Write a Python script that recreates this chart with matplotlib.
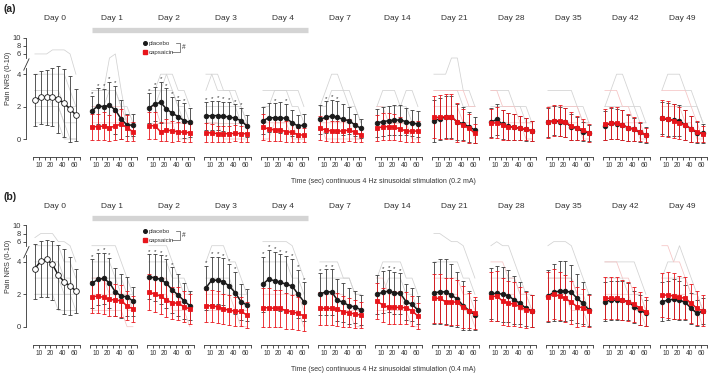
import numpy as np
import matplotlib.pyplot as plt
from matplotlib.lines import Line2D

plt.rcParams['font.family'] = ['Liberation Sans', 'DejaVu Sans']

# ---- data ----
days = ['Day 0', 'Day 1', 'Day 2', 'Day 3', 'Day 4', 'Day 7',
        'Day 14', 'Day 21', 'Day 28', 'Day 35', 'Day 42', 'Day 49']
time_sec = [5, 10, 15, 20, 30, 40, 50, 60]
xtick_labels = ['', '10', '', '20', '', '40', '', '60', '']
ytick_values = [0, 2, 4, 6, 8, 10]

# baseline (Day 0), all subjects pooled
a_day0_mean = [2.41, 2.57, 2.59, 2.61, 2.45, 2.2, 1.85, 1.48]
a_day0_sd = [1.6, 1.65, 1.7, 1.8, 2.05, 2.1, 2.05, 1.62]
b_day0_mean = [3.59, 4.04, 4.15, 3.84, 3.18, 2.77, 2.52, 2.2]
b_day0_sd = [1.9, 2.2, 2.3, 2.2, 2.1, 2.0, 1.8, 1.35]

# (a) 0.2 mA, Day 1 .. Day 49
a_placebo_mean = [
    [1.73, 2.04, 2.0, 2.08, 1.79, 1.23, 0.86, 0.86],
    [1.9, 2.16, 2.26, 1.85, 1.59, 1.38, 1.13, 1.03],
    [1.43, 1.43, 1.45, 1.4, 1.36, 1.28, 1.13, 0.8],
    [1.13, 1.31, 1.31, 1.31, 1.28, 1.0, 0.8, 0.86],
    [1.21, 1.34, 1.42, 1.34, 1.21, 1.13, 0.86, 0.66],
    [1.0, 1.07, 1.13, 1.17, 1.17, 1.07, 0.97, 0.93],
    [1.13, 1.25, 1.35, 1.35, 1.05, 0.95, 0.74, 0.56],
    [1.03, 1.21, 0.9, 0.78, 0.72, 0.66, 0.6, 0.49],
    [1.03, 1.13, 1.07, 1.03, 0.74, 0.66, 0.45, 0.39],
    [0.82, 0.97, 0.93, 0.86, 0.7, 0.6, 0.41, 0.25],
    [1.28, 1.21, 1.17, 1.13, 0.86, 0.62, 0.39, 0.35],
]
a_placebo_sd = [
    [0.9, 1.1, 1.1, 1.45, 1.5, 1.2, 0.66, 0.66],
    [0.92, 1.03, 1.28, 1.28, 1.02, 1.0, 1.07, 0.9],
    [0.85, 0.9, 0.9, 0.9, 0.9, 0.85, 0.8, 0.7],
    [0.85, 0.9, 0.9, 0.95, 0.9, 0.8, 0.7, 0.7],
    [0.9, 1.0, 1.0, 1.0, 0.95, 0.85, 0.7, 0.6],
    [0.85, 0.9, 0.9, 0.9, 0.9, 0.85, 0.8, 0.8],
    [1.3, 1.3, 1.3, 1.3, 1.1, 1.0, 0.9, 0.8],
    [0.9, 0.95, 0.9, 0.85, 0.8, 0.75, 0.7, 0.6],
    [0.9, 0.9, 0.9, 0.9, 0.8, 0.7, 0.6, 0.5],
    [0.9, 0.95, 0.95, 0.9, 0.8, 0.7, 0.6, 0.5],
    [1.0, 1.0, 1.0, 0.95, 0.9, 0.8, 0.65, 0.6],
]
a_capsaicin_mean = [
    [0.76, 0.76, 0.8, 0.7, 0.8, 0.93, 0.7, 0.45],
    [0.82, 0.82, 0.45, 0.56, 0.49, 0.45, 0.41, 0.39],
    [0.4, 0.37, 0.33, 0.33, 0.33, 0.35, 0.33, 0.33],
    [0.72, 0.62, 0.56, 0.56, 0.45, 0.41, 0.25, 0.25],
    [0.66, 0.56, 0.49, 0.49, 0.49, 0.56, 0.41, 0.25],
    [0.66, 0.76, 0.76, 0.72, 0.62, 0.49, 0.49, 0.49],
    [1.34, 1.34, 1.38, 1.38, 1.03, 0.86, 0.66, 0.35],
    [0.97, 1.0, 0.86, 0.76, 0.72, 0.66, 0.62, 0.49],
    [1.03, 1.13, 1.13, 1.03, 0.8, 0.7, 0.56, 0.39],
    [0.9, 0.97, 1.0, 0.86, 0.7, 0.6, 0.45, 0.25],
    [1.28, 1.25, 1.13, 0.97, 0.86, 0.62, 0.45, 0.31],
]
a_capsaicin_sd = [
    [0.8, 0.8, 0.85, 0.8, 0.85, 0.9, 0.8, 0.6],
    [0.85, 0.85, 0.6, 0.7, 0.65, 0.6, 0.6, 0.55],
    [0.6, 0.55, 0.5, 0.5, 0.5, 0.5, 0.5, 0.5],
    [0.8, 0.75, 0.7, 0.7, 0.65, 0.6, 0.45, 0.45],
    [0.75, 0.7, 0.65, 0.65, 0.65, 0.7, 0.6, 0.45],
    [0.8, 0.85, 0.85, 0.8, 0.75, 0.65, 0.65, 0.65],
    [1.3, 1.35, 1.4, 1.4, 1.2, 1.0, 0.9, 0.6],
    [0.9, 0.95, 0.9, 0.85, 0.8, 0.75, 0.7, 0.6],
    [0.95, 0.95, 0.95, 0.9, 0.85, 0.75, 0.65, 0.55],
    [0.95, 1.0, 1.0, 0.95, 0.85, 0.75, 0.6, 0.45],
    [1.1, 1.1, 1.05, 1.0, 0.95, 0.8, 0.65, 0.5],
]
a_signif = [[1, 2, 3, 4, 5], [1, 2, 3, 4, 5, 6, 7], [1, 2, 3, 4, 5, 6, 7],
            [3, 5], [2, 3, 4], [], [], [], [], [], []]

# (b) 0.4 mA, Day 1 .. Day 49
b_placebo_mean = [
    [2.67, 2.92, 2.98, 2.71, 2.15, 1.89, 1.85, 1.58],
    [3.08, 3.02, 2.92, 2.67, 2.26, 1.95, 1.6, 1.29],
    [2.4, 2.87, 2.87, 2.77, 2.5, 2.1, 1.54, 1.34],
    [2.63, 2.94, 2.83, 2.73, 2.63, 2.5, 2.01, 1.54],
    [2.01, 2.15, 2.15, 1.64, 1.5, 1.29, 1.23, 1.03],
    [2.01, 2.12, 2.2, 2.09, 2.05, 1.54, 1.38, 1.03],
    [2.09, 2.15, 2.15, 1.95, 1.7, 1.3, 1.0, 0.72],
    [2.05, 2.05, 2.01, 1.91, 1.64, 1.44, 1.13, 0.98],
    [1.89, 2.12, 2.2, 2.2, 2.12, 1.75, 1.44, 1.03],
    [1.54, 1.64, 1.64, 1.64, 1.54, 1.23, 1.03, 0.82],
    [1.54, 1.64, 1.7, 1.64, 1.5, 1.13, 0.82, 0.97],
]
b_placebo_sd = [
    [1.5, 1.6, 1.6, 1.55, 1.5, 1.35, 1.2, 0.9],
    [1.4, 1.45, 1.5, 1.5, 1.4, 1.3, 1.1, 0.9],
    [1.35, 1.45, 1.45, 1.45, 1.4, 1.3, 1.1, 1.0],
    [1.7, 1.8, 1.8, 1.75, 1.75, 1.7, 1.5, 1.2],
    [1.3, 1.4, 1.4, 1.3, 1.2, 1.1, 1.0, 0.9],
    [1.2, 1.3, 1.3, 1.3, 1.25, 1.1, 1.0, 0.85],
    [1.9, 2.0, 2.0, 1.9, 1.7, 1.5, 1.2, 0.9],
    [1.6, 1.7, 1.7, 1.6, 1.5, 1.3, 1.1, 1.0],
    [1.6, 1.75, 1.85, 1.85, 1.7, 1.5, 1.3, 1.0],
    [1.2, 1.2, 1.2, 1.2, 1.15, 1.0, 0.9, 0.8],
    [1.2, 1.2, 1.25, 1.2, 1.1, 0.95, 0.8, 0.8],
]
b_capsaicin_mean = [
    [1.85, 1.89, 1.81, 1.69, 1.64, 1.6, 1.29, 1.09],
    [2.15, 2.01, 1.89, 1.64, 1.48, 1.44, 1.23, 1.09],
    [1.29, 1.29, 1.23, 1.09, 1.03, 0.95, 0.95, 0.72],
    [1.17, 1.17, 1.13, 1.13, 0.97, 0.92, 0.82, 0.66],
    [1.13, 1.13, 1.13, 1.07, 0.92, 0.86, 0.78, 0.72],
    [1.58, 1.34, 1.19, 1.19, 1.19, 1.17, 0.97, 0.66],
    [1.75, 1.75, 1.54, 1.54, 1.5, 1.19, 1.0, 0.86],
    [1.85, 1.89, 1.58, 1.44, 1.4, 1.23, 1.03, 0.98],
    [1.85, 2.01, 1.89, 1.75, 1.5, 1.23, 1.17, 0.98],
    [1.75, 1.75, 1.75, 1.64, 1.54, 1.38, 1.13, 0.92],
    [1.95, 1.95, 1.89, 1.81, 1.75, 1.44, 1.13, 0.98],
]
b_capsaicin_sd = [
    [1.0, 1.05, 1.05, 1.0, 1.0, 1.0, 0.9, 0.8],
    [1.1, 1.1, 1.1, 1.05, 1.0, 1.0, 0.95, 0.9],
    [1.0, 1.0, 1.0, 0.95, 0.95, 0.9, 0.9, 0.8],
    [1.2, 1.2, 1.15, 1.15, 1.1, 1.05, 1.0, 0.9],
    [1.0, 1.0, 1.0, 1.0, 0.95, 0.9, 0.85, 0.8],
    [1.1, 1.05, 1.0, 1.0, 1.0, 1.0, 0.9, 0.8],
    [1.5, 1.5, 1.45, 1.45, 1.4, 1.3, 1.1, 1.0],
    [1.5, 1.55, 1.45, 1.4, 1.35, 1.25, 1.1, 1.0],
    [1.5, 1.55, 1.5, 1.45, 1.35, 1.25, 1.15, 1.0],
    [1.3, 1.3, 1.3, 1.25, 1.2, 1.1, 1.0, 0.9],
    [1.35, 1.4, 1.4, 1.35, 1.3, 1.2, 1.05, 0.95],
]
b_signif = [[1, 2, 3, 4], [1, 2, 3, 4, 5], [1, 2, 3, 4, 5, 6],
            [1, 2, 3, 4, 5, 6, 7, 8], [1, 2, 3], [2, 3, 4, 5], [], [], [], [], []]

# a few individual subject traces per panel (NRS digits at each time point)
a_grey_traces = [
    ['66677764', '44444432', '33333222', '22222111', '11111000', '33322100'],
    ['33356310', '22233210', '33333221'],
    ['33444332', '22343211', '33333221'],
    ['34433321', '22222211', '44333221'],
    ['33333332', '22333221'],
    ['23443321', '22333221'],
    ['23332332', '22222211'],
    ['44455332', '33333222'],
    ['33332221', '22222211'],
    ['33333221', '22222211'],
    ['23443221', '22222211'],
    ['34443321', '22222221'],
]
a_pink_traces = [
    [],
    ['11111110', '22222211'],
    ['11111111', '22111000'],
    ['11100000', '11111111'],
    ['11111100', '00111000'],
    ['11111100', '10000000'],
    ['11111111', '22111100'],
    ['33333322', '22222110'],
    ['33222111', '11111100'],
    ['22222211', '11111100'],
    ['33322110', '11111100'],
    ['33333210', '22221100'],
]
b_grey_traces = [
    ['78886654', '55555443', '44444332', '33333222', '22222221', '22221111'],
    ['55555432', '44443322', '33333221'],
    ['55554332', '44443322'],
    ['45554432', '33333222'],
    ['66666543', '44444332'],
    ['44443322', '33333322'],
    ['34444332', '22333221'],
    ['88766543', '44444332'],
    ['56554322', '33333221'],
    ['56665432', '33333221'],
    ['44444432', '33332221'],
    ['34454321', '33333221'],
]
b_pink_traces = [
    [],
    ['22222221', '11111100', '33322211'],
    ['33332211', '22221110'],
    ['22222111', '11111100'],
    ['22222221', '11111110'],
    ['22222111', '11111100'],
    ['33222111', '11111100'],
    ['33333221', '22222110'],
    ['44433221', '22222111'],
    ['33333211', '22221110'],
    ['44433221', '22222110'],
    ['55443221', '22222110'],
]

# ---- styling ----
W, H = 709, 377
BLACK = '#1a1a1a'
EBLACK = '#3c3c3c'
RED = '#e8151b'
GREY = '#d2d2d2'
PINK = '#f5c4c4'
TICK_FS = 4.8


def fwd(y):
    y = np.asarray(y, dtype=float)
    return np.where(y <= 5, y, 3.75 + 0.25 * y)


def inv(t):
    t = np.asarray(t, dtype=float)
    return np.where(t <= 5, t, (t - 3.75) / 0.25)


xpos = np.arange(1, len(time_sec) + 1)
xticks = np.arange(9) + 0.65


def setup_axis(ax, first):
    ax.set_yscale('function', functions=(fwd, inv))
    ax.set_xlim(-0.45, 8.95)
    ax.set_ylim(-1.1, 11.4)
    ax.patch.set_alpha(0)
    for s in ['top', 'right']:
        ax.spines[s].set_visible(False)
    ax.spines['bottom'].set_bounds(xticks[0], xticks[-1])
    ax.spines['bottom'].set_linewidth(0.6)
    ax.spines['bottom'].set_color('#333333')
    ax.set_xticks(xticks)
    ax.set_xticklabels(xtick_labels)
    ax.tick_params(axis='x', length=2.5, width=0.6, color='#333333',
                   labelsize=TICK_FS, pad=1.5, labelcolor='#333333')
    ax.minorticks_off()
    if first:
        ax.spines['left'].set_bounds(0, 4.4)
        ax.spines['left'].set_linewidth(0.6)
        ax.spines['left'].set_color('#333333')
        ax.set_yticks(ytick_values)
        ax.set_yticklabels([str(v) for v in ytick_values])
        ax.tick_params(axis='y', length=2.5, width=0.6, color='#333333',
                       labelsize=TICK_FS + 0.6, pad=1.2, labelcolor='#333333')
        ax.plot([-0.45, -0.45], [5.0, 10], color='#333333', lw=0.6, clip_on=False)
        ax.plot([-0.9, 0.0], [4.25, 4.95], color='#333333', lw=0.6, clip_on=False)
    else:
        ax.spines['left'].set_visible(False)
        ax.set_yticks([])


def draw_traces(ax, traces, color):
    for tr in traces:
        ax.plot(xpos, [int(c) for c in tr], color=color, lw=0.55, zorder=1)


def draw_group(ax, mean, sd, color, ecolor, marker, mfc, ms):
    ax.errorbar(xpos, mean, yerr=sd, fmt='none', ecolor=ecolor, elinewidth=0.6,
                capsize=1.1, capthick=0.6, zorder=3)
    ax.plot(xpos, mean, color=color, lw=1.1, marker=marker, ms=ms,
            mfc=mfc, mec=color, mew=0.6, zorder=4)


def draw_stars(ax, mean, sd, idx):
    for i in idx:
        ax.annotate('*', xy=(xpos[i - 1], mean[i - 1] + sd[i - 1]),
                    xytext=(0, 0.3), textcoords='offset points',
                    ha='center', va='bottom', fontsize=4.5, color='#333333')


def draw_row(top_px, zero_px, label, day0_mean, day0_sd, pl_mean, pl_sd,
             ca_mean, ca_sd, signif, grey_tr, pink_tr, xlabel):
    unit = 16.2
    bottom_px = zero_px + 1.1 * unit
    height_px = 7.7 * unit
    for i, day in enumerate(days):
        left_px = 26.4 + 57 * i
        ax = fig.add_axes([left_px / W, 1 - bottom_px / H, 55.1 / W, height_px / H])
        setup_axis(ax, i == 0)
        draw_traces(ax, grey_tr[i], GREY)
        if i == 0:
            draw_group(ax, day0_mean, day0_sd, BLACK, EBLACK, 'o', 'white', 4.1)
        else:
            draw_traces(ax, pink_tr[i], PINK)
            k = i - 1
            draw_group(ax, pl_mean[k], pl_sd[k], BLACK, EBLACK, 'o', BLACK, 3.3)
            draw_group(ax, ca_mean[k], ca_sd[k], RED, RED, 's', RED, 3.1)
            draw_stars(ax, pl_mean[k], pl_sd[k], signif[k])
        fig.text((29 + 4.5 * 5.86 + 57 * i) / W, 1 - (top_px - 14) / H, day,
                 ha='center', va='center', fontsize=6.0, color='#333333')
        if i == 0:
            ax.set_ylabel('Pain NRS (0-10)', fontsize=5.2, color='#333333', labelpad=3)
            ax.yaxis.set_label_coords(-0.27, 0.63)
    # grey bar above Day 1 .. Day 4
    fig.add_artist(Line2D([92 / W, 308 / W], [1 - (top_px - 2) / H] * 2,
                          color='#d4d4d4', lw=3.8, solid_capstyle='butt'))
    # legend with bracket
    ly = top_px + 11.3
    fig.add_artist(Line2D([145 / W], [1 - ly / H], marker='o', ms=2.6,
                          color=BLACK, ls='none'))
    fig.add_artist(Line2D([145 / W], [1 - (ly + 9) / H], marker='s', ms=2.6,
                          color=RED, ls='none'))
    fig.text(148.5 / W, 1 - ly / H, 'placebo', fontsize=4.4, va='center', color='#333333')
    fig.text(148.5 / W, 1 - (ly + 9) / H, 'capsaicin', fontsize=4.4, va='center',
             color='#333333')
    fig.add_artist(Line2D([176 / W, 180 / W, 180 / W, 172 / W],
                          [1 - ly / H, 1 - ly / H, 1 - (ly + 9) / H, 1 - (ly + 9) / H],
                          color='#555555', lw=0.5))
    fig.text(182 / W, 1 - (ly + 4.5) / H, '#', fontsize=4.8, va='center', color='#333333')
    fig.text(3 / W, 1 - (top_px - 23) / H, label, fontsize=7.5, fontweight='bold',
             va='center', ha='left', color='#222222')
    fig.text(383 / W, 1 - (bottom_px + 24.5) / H, xlabel, fontsize=5.0,
             ha='center', va='center', color='#333333')


fig = plt.figure(figsize=(W / 100, H / 100), dpi=100)

draw_row(32, 139, '(a)', a_day0_mean, a_day0_sd, a_placebo_mean, a_placebo_sd,
         a_capsaicin_mean, a_capsaicin_sd, a_signif, a_grey_traces, a_pink_traces,
         'Time (sec) continuous 4 Hz sinusoidal stimulation (0.2 mA)')
draw_row(220, 326.7, '(b)', b_day0_mean, b_day0_sd, b_placebo_mean, b_placebo_sd,
         b_capsaicin_mean, b_capsaicin_sd, b_signif, b_grey_traces, b_pink_traces,
         'Time (sec) continuous 4 Hz sinusoidal stimulation (0.4 mA)')

fig.savefig('out.png', dpi=100)
